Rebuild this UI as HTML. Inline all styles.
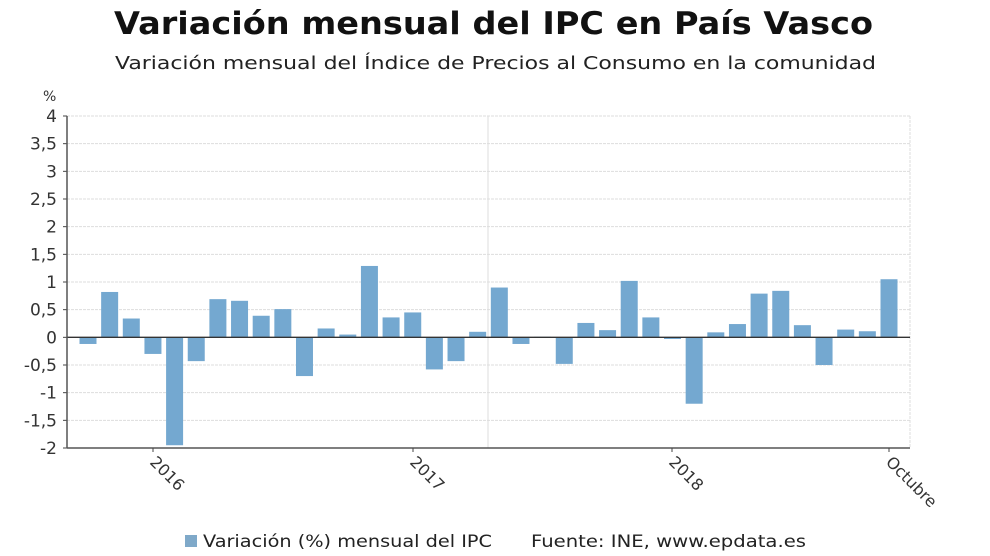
<!DOCTYPE html>
<html><head><meta charset="utf-8"><style>
html,body{margin:0;padding:0;background:#fff;}
svg{display:block;font-family:"DejaVu Sans","Liberation Sans",sans-serif;}
</style></head><body>
<svg id="s" width="990" height="556" viewBox="0 0 990 556" xmlns="http://www.w3.org/2000/svg">
<text x="114" y="34" font-size="31" font-weight="bold" fill="#111" textLength="759" lengthAdjust="spacingAndGlyphs">Variación mensual del IPC en País Vasco</text>
<text x="115" y="69" font-size="18" fill="#222" textLength="761" lengthAdjust="spacingAndGlyphs">Variación mensual del Índice de Precios al Consumo en la comunidad</text>
<text x="43" y="101" font-size="14" fill="#333">%</text>
<g id="g"></g>
<rect x="185" y="535" width="12" height="12" fill="#7fa9c9"/>
<text x="203" y="547" font-size="17" fill="#222" textLength="289" lengthAdjust="spacingAndGlyphs">Variación (%) mensual del IPC</text>
<text x="531" y="547" font-size="17" fill="#222" textLength="275" lengthAdjust="spacingAndGlyphs">Fuente: INE, www.epdata.es</text>
</svg>
<script>
var g=document.getElementById('g'),h='';
var T=116,B=448,L=67,R=910,u=(B-T)/6,z=T+4*u;
function Y(v){return z-v*u;}
for(var i=-4;i<=8;i++){var v=i/2,y=Y(v);
 if(v!=0&&v!=-2) h+='<line x1="'+L+'" x2="'+R+'" y1="'+y+'" y2="'+y+'" stroke="#ddd" stroke-dasharray="3,1"/>';
 var lab=(v+'').replace('.',',');
 h+='<text x="57" y="'+(y+6)+'" text-anchor="end" font-size="17" fill="#333">'+lab+'</text>';
 h+='<line x1="'+(L-4)+'" x2="'+L+'" y1="'+y+'" y2="'+y+'" stroke="#444"/>';}
h+='<line x1="'+R+'" x2="'+R+'" y1="'+T+'" y2="'+B+'" stroke="#ddd" stroke-dasharray="3,1"/>';
h+='<line x1="488" x2="488" y1="'+T+'" y2="'+B+'" stroke="#ddd"/>';
var d=[-0.12,0.82,0.34,-0.3,-1.95,-0.43,0.69,0.66,0.39,0.51,-0.7,0.16,0.05,1.29,0.36,0.45,-0.58,-0.43,0.1,0.9,-0.12,0.01,-0.48,0.26,0.13,1.02,0.36,-0.03,-1.2,0.09,0.24,0.79,0.84,0.22,-0.5,0.14,0.11,1.05];
var st=(889-88)/37;
d.forEach(function(v,i){var c=88+i*st,y0=Math.min(Y(v),z),hh=Math.abs(v*u);
 h+='<rect x="'+(c-8.5)+'" y="'+y0+'" width="17" height="'+Math.max(hh,1)+'" fill="#74a8d0"/>';});
h+='<line x1="'+L+'" x2="'+R+'" y1="'+z+'" y2="'+z+'" stroke="#333" stroke-width="1.3"/>';
h+='<line x1="'+L+'" x2="'+L+'" y1="'+T+'" y2="'+B+'" stroke="#555" stroke-width="1.5"/>';
h+='<line x1="'+L+'" x2="'+R+'" y1="'+B+'" y2="'+B+'" stroke="#555" stroke-width="1.5"/>';
[[153,'2016'],[413,'2017'],[672,'2018'],[889,'Octubre']].forEach(function(t){
 h+='<line x1="'+t[0]+'" x2="'+t[0]+'" y1="'+B+'" y2="'+(B+4)+'" stroke="#444"/>';
 h+='<text x="'+(t[0]-4)+'" y="'+(B+15)+'" font-size="16" fill="#333" transform="rotate(45 '+(t[0]-4)+' '+(B+15)+')">'+t[1]+'</text>';});
g.innerHTML=h;
</script>
</body></html>
